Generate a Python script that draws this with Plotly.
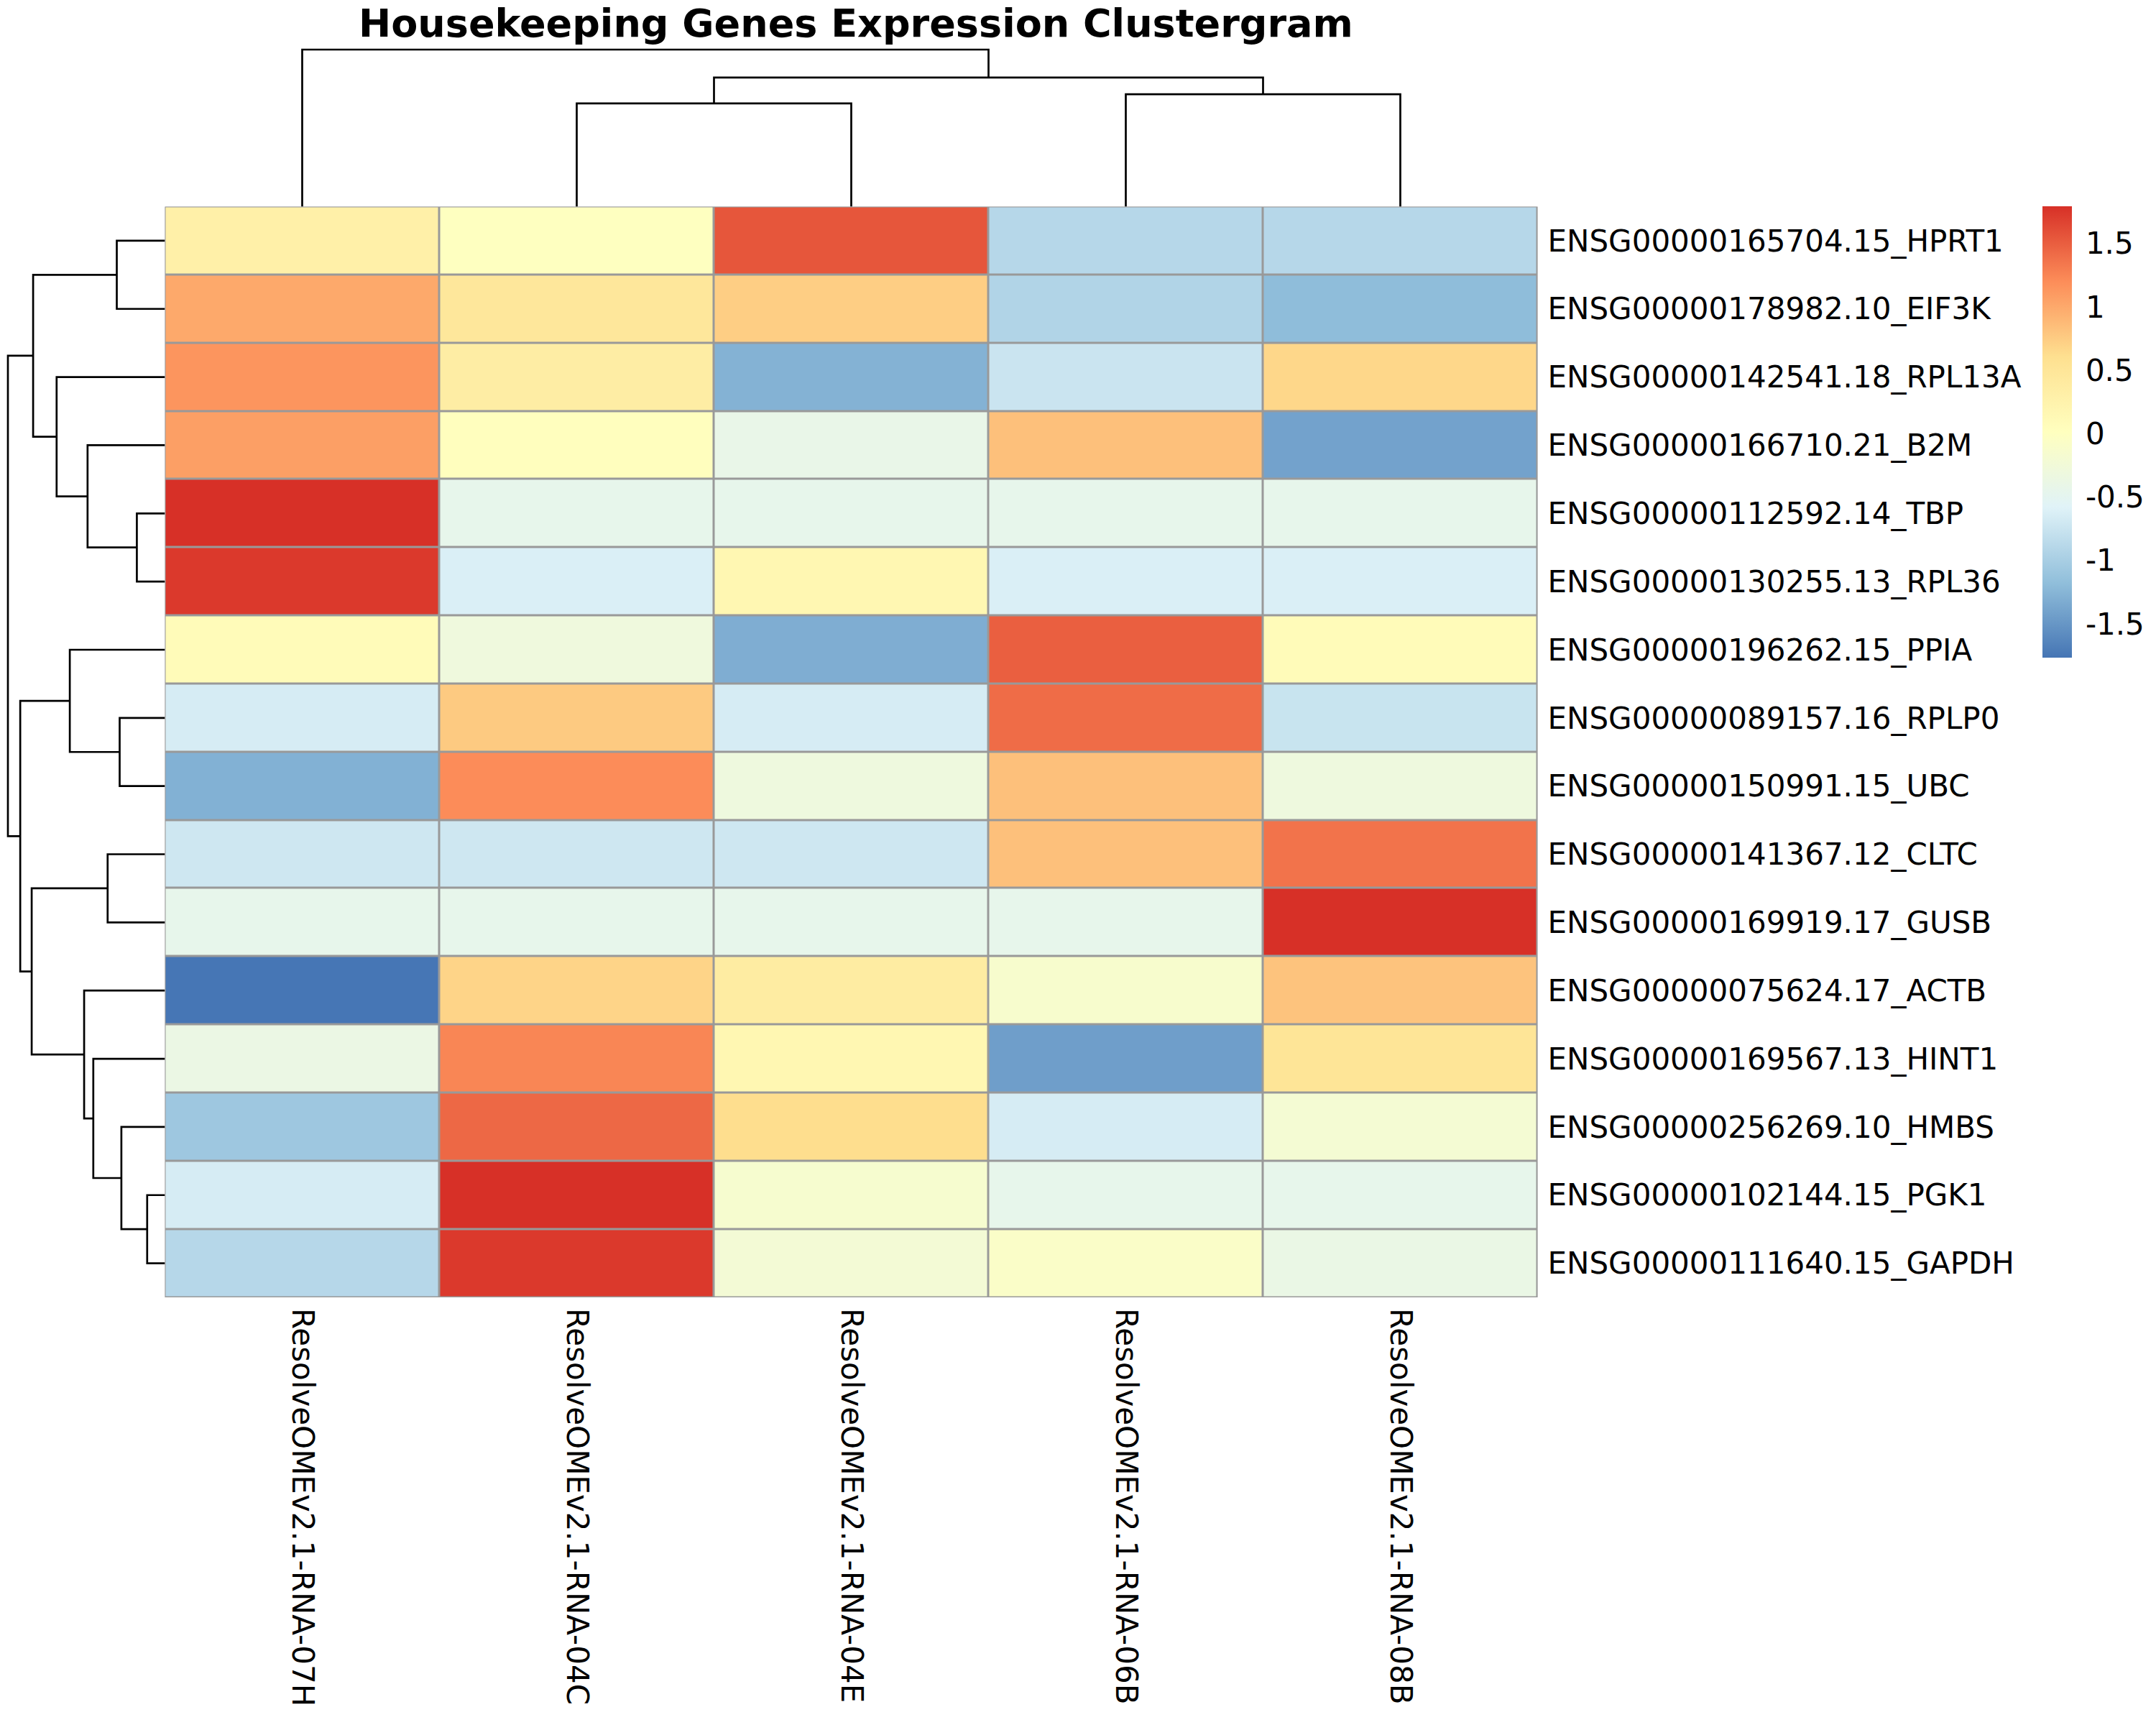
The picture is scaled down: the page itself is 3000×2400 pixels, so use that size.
import plotly.graph_objects as go

W, H = 3000, 2400

genes = ["ENSG00000165704.15_HPRT1", "ENSG00000178982.10_EIF3K", "ENSG00000142541.18_RPL13A",
         "ENSG00000166710.21_B2M", "ENSG00000112592.14_TBP", "ENSG00000130255.13_RPL36",
         "ENSG00000196262.15_PPIA", "ENSG00000089157.16_RPLP0", "ENSG00000150991.15_UBC",
         "ENSG00000141367.12_CLTC", "ENSG00000169919.17_GUSB", "ENSG00000075624.17_ACTB",
         "ENSG00000169567.13_HINT1", "ENSG00000256269.10_HMBS", "ENSG00000102144.15_PGK1",
         "ENSG00000111640.15_GAPDH"]
samples = ["ResolveOMEv2.1-RNA-07H", "ResolveOMEv2.1-RNA-04C", "ResolveOMEv2.1-RNA-04E",
           "ResolveOMEv2.1-RNA-06B", "ResolveOMEv2.1-RNA-08B"]

# row z-scores, one list per sample (rows in displayed order)
col_07H = [0.30, 1.00, 1.14, 1.07, 1.79, 1.73, 0.08, -0.66, -1.29, -0.72, -0.45, -1.76, -0.37, -1.08, -0.66, -0.90]
col_04C = [0.00, 0.47, 0.35, 0.02, -0.45, -0.63, -0.30, 0.76, 1.20, -0.72, -0.45, 0.69, 1.24, 1.43, 1.79, 1.73]
col_04E = [1.55, 0.73, -1.28, -0.42, -0.45, 0.17, -1.32, -0.66, -0.31, -0.72, -0.45, 0.38, 0.17, 0.62, -0.16, -0.22]
col_06B = [-0.90, -0.94, -0.75, 0.83, -0.45, -0.63, 1.49, 1.41, 0.83, 0.83, -0.45, -0.14, -1.44, -0.66, -0.45, -0.08]
col_08B = [-0.90, -1.19, 0.67, -1.41, -0.45, -0.63, 0.08, -0.76, -0.31, 1.36, 1.79, 0.81, 0.51, -0.20, -0.45, -0.39]

# row dendrogram merges: (child_a, child_b, height); leaves 0..15, clusters "m<k>"
row_merges = [
    (4, 5, 0.98), (14, 15, 0.62), (0, 1, 1.68), (7, 8, 1.58), (9, 10, 2.00),
    (13, "m1", 1.52), (3, "m0", 2.70), (12, "m5", 2.50), (11, "m7", 2.82),
    (6, "m3", 3.32), (2, "m6", 3.78), ("m2", "m10", 4.60), ("m4", "m8", 4.65),
    ("m9", "m12", 5.05), ("m11", "m13", 5.48),
]
# column dendrogram merges
col_merges = [(1, 2, 3.58), (3, 4, 3.90), ("m0", "m1", 4.48), (0, "m2", 5.45)]

cb_ticks = [-1.5, -1, -0.5, 0, 0.5, 1, 1.5]
cb_labels = ["-1.5", "-1", "-0.5", "0", "0.5", "1", "1.5"]
palette = ["#4575B4", "#91BFDB", "#E0F3F8", "#FFFFBF", "#FEE090", "#FC8D59", "#D73027"]
zmin, zmax = -1.77, 1.79

FONT = "DejaVu Sans"
GRID = "#999999"

cols = [col_07H, col_04C, col_04E, col_06B, col_08B]
z = [[cols[j][i] for j in range(len(samples))] for i in range(len(genes))]


def dendro_segments(merges):
    pos, hgt = {}, {}
    a_list, b_list = [], []

    def get(c):
        if isinstance(c, int):
            return float(c), 0.0
        return pos[c], hgt[c]

    for k, (ca, cb, h) in enumerate(merges):
        pa, ha = get(ca)
        pb, hb = get(cb)
        a_list += [pa, pa, pb, pb, None]
        b_list += [ha, h, h, hb, None]
        pos["m%d" % k] = (pa + pb) / 2
        hgt["m%d" % k] = h
    return a_list, b_list, merges[-1][2]


# pixel geometry of the layout
hm_l, hm_r, hm_t, hm_b = 229.5, 2139.5, 287.5, 1805
tree_px = 218.5

fig = go.Figure()

n = len(palette)
cscale = [[i / (n - 1), c] for i, c in enumerate(palette)]
fig.add_trace(go.Heatmap(
    z=z, x=list(range(len(samples))), y=list(range(len(genes))),
    colorscale=cscale, zmin=zmin, zmax=zmax, xgap=3, ygap=3,
    xaxis="x", yaxis="y", hoverinfo="skip",
    colorbar=dict(
        x=2842 / W, xanchor="left", y=1 - 287.5 / H, yanchor="top",
        lenmode="pixels", len=628, thicknessmode="pixels", thickness=41,
        xpad=0, ypad=0, outlinewidth=0,
        tickvals=cb_ticks, ticktext=cb_labels, ticks="outside", ticklen=11,
        tickcolor="rgba(0,0,0,0)",
        tickfont=dict(family=FONT, size=42, color="black"),
    ),
))

# row dendrogram
rp, rh, rroot = dendro_segments(row_merges)
fig.add_trace(go.Scatter(x=rh, y=rp, mode="lines", xaxis="x2", yaxis="y2",
                         line=dict(color="black", width=2.7), hoverinfo="skip",
                         showlegend=False))
# column dendrogram
cp, ch, croot = dendro_segments(col_merges)
fig.add_trace(go.Scatter(x=cp, y=ch, mode="lines", xaxis="x3", yaxis="y3",
                         line=dict(color="black", width=2.7), hoverinfo="skip",
                         showlegend=False))

nr, nc = len(genes), len(samples)
ydom = [1 - hm_b / H, 1 - hm_t / H]
xdom = [hm_l / W, hm_r / W]

fig.update_layout(
    width=W, height=H, margin=dict(l=0, r=0, t=0, b=0),
    paper_bgcolor="white", plot_bgcolor="white", showlegend=False,
    font=dict(family=FONT, color="black"),
    xaxis=dict(domain=xdom, range=[-0.5, nc - 0.5], anchor="y",
               tickvals=list(range(nc)), ticktext=samples, tickangle=90,
               ticks="", showgrid=False, zeroline=False, showline=False,
               ticklabelstandoff=14,
               tickfont=dict(family=FONT, size=42, color="black")),
    yaxis=dict(domain=ydom, range=[nr - 0.5, -0.5], anchor="x", side="right",
               tickvals=list(range(nr)), ticktext=genes, ticks="",
               showgrid=False, zeroline=False, showline=False,
               ticklabelstandoff=13,
               tickfont=dict(family=FONT, size=42, color="black")),
    xaxis2=dict(domain=[0, hm_l / W], range=[rroot * hm_l / tree_px, 0],
                anchor="y2", visible=False),
    yaxis2=dict(domain=ydom, range=[nr - 0.5, -0.5], anchor="x2", visible=False),
    xaxis3=dict(domain=xdom, range=[-0.5, nc - 0.5], anchor="y3", visible=False),
    yaxis3=dict(domain=[1 - hm_t / H, 1], range=[0, croot * hm_t / tree_px],
                anchor="x3", visible=False),
    shapes=[dict(type="rect", xref="x", yref="y", x0=-0.5, x1=nc - 0.5,
                 y0=-0.5, y1=nr - 0.5, layer="below", fillcolor=GRID,
                 line=dict(color=GRID, width=3))],
    annotations=[dict(text="<b>Housekeeping Genes Expression Clustergram</b>",
                      xref="paper", yref="paper", x=1191 / W,
                      y=1, xanchor="center", yanchor="top", borderpad=0,
                      showarrow=False,
                      font=dict(family=FONT, size=54, color="black"))],
)

fig.write_html("out.html",
               config={"displayModeBar": False},
               post_script="document.body.style.margin='0';"
                           "document.body.style.overflow='hidden';")
